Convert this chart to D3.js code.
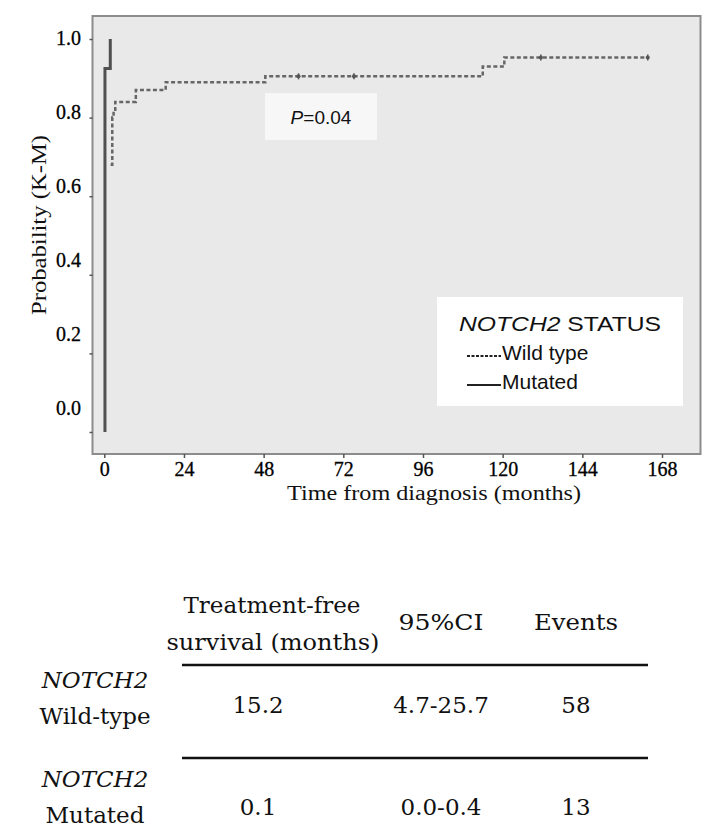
<!DOCTYPE html>
<html>
<head>
<meta charset="utf-8">
<script src="https://cdn.jsdelivr.net/npm/d3@7"></script>
<style>
  html, body { margin: 0; padding: 0; background: #fff; }
  svg { display: block; }
</style>
</head>
<body>
<svg id="chart" width="713" height="835"></svg>
<script>
// ---------------- DATA ----------------
// Wild type step curve (time in months, probability)
const wildTimes  = [1.9, 2.4, 2.8, 3.3, 9.5, 18.5, 48.5, 114, 120.5, 163.7];
const wildProbs  = [0.68, 0.80, 0.82, 0.84, 0.87, 0.89, 0.905, 0.93, 0.953, 0.953];
// Censor marks on wild type curve
const wildCensorTimes = [58.5, 75.2, 131.5, 163.7];
const wildCensorProbs = [0.905, 0.905, 0.953, 0.953];
// Mutated step curve
const mutTimes = [0.2, 0.2, 1.8, 1.8];
const mutProbs = [0.0, 0.925, 0.925, 1.0];

const xTicks = [0, 24, 48, 72, 96, 120, 144, 168];
const yTicks = [0.0, 0.2, 0.4, 0.6, 0.8, 1.0];

const pValueLabel = "=0.04";
const legendTitle = "STATUS";
const legendGene = "NOTCH2";
const legendNames = ["Wild type", "Mutated"];

// Table
const tableHeader = [["Treatment-free", "survival (months)"], ["95%CI"], ["Events"]];
const rowGene = ["NOTCH2", "NOTCH2"];
const rowNames = ["Wild-type", "Mutated"];
const tfsValues = ["15.2", "0.1"];
const ciValues = ["4.7-25.7", "0.0-0.4"];
const eventValues = ["58", "13"];

// ---------------- CHART ----------------
const svg = d3.select("#chart");
const serif = "'Liberation Serif', 'Times New Roman', serif";
const sans = "'Liberation Sans', Arial, sans-serif";
const dserif = "'DejaVu Serif', serif";

const frame = {x0: 92.5, x1: 700.5, y0: 16, y1: 454};
const x = d3.scaleLinear().domain([0, 168]).range([104.3, 662]);
const y = d3.scaleLinear().domain([0, 1]).range([432, 39]);
// tick labels in the original sit slightly above their tick marks
const yLab = d3.scaleLinear().domain([0, 1]).range([408, 38]);

svg.append("rect")
  .attr("x", frame.x0).attr("y", frame.y0)
  .attr("width", frame.x1 - frame.x0).attr("height", frame.y1 - frame.y0)
  .attr("fill", "#e9e9e9").attr("stroke", "#8c8c8c").attr("stroke-width", 2);

// Y axis ticks
const yAxis = d3.axisLeft(y).tickValues(yTicks).tickSize(3).tickFormat("");
const gy = svg.append("g").attr("transform", `translate(${frame.x0},0)`).call(yAxis);
gy.select(".domain").remove();
gy.selectAll(".tick line").attr("stroke", "#555").attr("stroke-width", 1.5);
svg.append("g").selectAll("text").data(yTicks).join("text")
  .attr("x", 81).attr("y", d => yLab(d)).attr("dy", "0.35em")
  .attr("text-anchor", "end")
  .attr("font-family", serif).attr("font-size", 20).attr("fill", "#000")
  .attr("stroke", "#000").attr("stroke-width", 0.3)
  .text(d => d3.format(".1f")(d));

// X axis
const xAxis = d3.axisBottom(x).tickValues(xTicks).tickSize(4).tickPadding(4).tickFormat(d3.format("d"));
const gx = svg.append("g").attr("transform", `translate(0,${frame.y1})`).call(xAxis);
gx.select(".domain").remove();
gx.selectAll(".tick line").attr("stroke", "#555").attr("stroke-width", 1.5);
gx.selectAll(".tick text").attr("font-family", serif).attr("font-size", 20).attr("fill", "#000")
  .attr("stroke", "#000").attr("stroke-width", 0.3);

// Axis titles
svg.append("text")
  .attr("x", 434).attr("y", 500)
  .attr("text-anchor", "middle")
  .attr("font-family", serif).attr("font-size", 20).attr("fill", "#111")
  .attr("textLength", 294).attr("lengthAdjust", "spacingAndGlyphs")
  .text("Time from diagnosis (months)");
svg.append("text")
  .attr("transform", `translate(46,225) rotate(-90)`)
  .attr("text-anchor", "middle")
  .attr("font-family", serif).attr("font-size", 20).attr("fill", "#111")
  .attr("textLength", 180).attr("lengthAdjust", "spacingAndGlyphs")
  .text("Probability (K-M)");

// Lines
const line = d3.line().x(d => x(d[0])).y(d => y(d[1])).curve(d3.curveStepAfter);
const wild = wildTimes.map((t, i) => [t, wildProbs[i]]);
const mut = mutTimes.map((t, i) => [t, mutProbs[i]]);

svg.append("path").datum(wild).attr("d", line)
  .attr("fill", "none").attr("stroke", "#666").attr("stroke-width", 2.5)
  .attr("stroke-dasharray", "4,2.5");
svg.append("path").datum(mut).attr("d", d3.line().x(d => x(d[0])).y(d => y(d[1])))
  .attr("fill", "none").attr("stroke", "#505050").attr("stroke-width", 3);

// Censor marks
const cens = wildCensorTimes.map((t, i) => [t, wildCensorProbs[i]]);
const cg = svg.append("g").selectAll("g").data(cens).join("g")
  .attr("transform", d => `translate(${x(d[0])},${y(d[1])})`);
cg.append("line").attr("x1", 0).attr("x2", 0).attr("y1", -3).attr("y2", 3)
  .attr("stroke", "#555").attr("stroke-width", 1.5);
cg.append("circle").attr("r", 2).attr("fill", "#555");

// P-value box
svg.append("rect").attr("x", 265).attr("y", 93).attr("width", 112).attr("height", 47)
  .attr("fill", "#f7f7f7");
const pt = svg.append("text").attr("x", 321).attr("y", 124)
  .attr("text-anchor", "middle")
  .attr("font-family", sans).attr("font-size", 19).attr("fill", "#111");
pt.append("tspan").attr("font-style", "italic").text("P");
pt.append("tspan").text(pValueLabel);

// Legend
svg.append("rect").attr("x", 437).attr("y", 297).attr("width", 246).attr("height", 109)
  .attr("fill", "#ffffff");
const lt = svg.append("text").attr("x", 459).attr("y", 331)
  .attr("font-family", sans).attr("font-size", 21).attr("fill", "#111")
  .attr("textLength", 202).attr("lengthAdjust", "spacingAndGlyphs");
lt.append("tspan").attr("font-style", "italic").text(legendGene);
lt.append("tspan").text(" " + legendTitle);

const legY = d3.scalePoint().domain(legendNames).range([360, 389]);
const lg = svg.append("g").selectAll("g").data(legendNames).join("g");
lg.append("line")
  .attr("x1", 467).attr("x2", 501)
  .attr("y1", d => legY(d) - 4).attr("y2", d => legY(d) - 4)
  .attr("stroke", "#222").attr("stroke-width", 2)
  .attr("stroke-dasharray", (d, i) => i === 0 ? "3,1.5" : null);
lg.append("text")
  .attr("x", 502).attr("y", d => legY(d))
  .attr("font-family", sans).attr("font-size", 21).attr("fill", "#111")
  .text(d => d);

// ---------------- TABLE ----------------
const colX = d3.scaleOrdinal().domain([0, 1, 2]).range([272, 441, 576]);
const tableTxt = (sel) => sel.attr("font-family", dserif).attr("font-size", 23).attr("fill", "#111");

// headers
tableTxt(svg.append("text").attr("x", colX(0)).attr("y", 613).attr("text-anchor", "middle")
  .attr("textLength", 177).attr("lengthAdjust", "spacingAndGlyphs").text(tableHeader[0][0]));
tableTxt(svg.append("text").attr("x", colX(0) + 1).attr("y", 650).attr("text-anchor", "middle")
  .attr("textLength", 213).attr("lengthAdjust", "spacingAndGlyphs").text(tableHeader[0][1]));
tableTxt(svg.append("text").attr("x", colX(1)).attr("y", 630).attr("text-anchor", "middle")
  .attr("textLength", 85).attr("lengthAdjust", "spacingAndGlyphs").text(tableHeader[1][0]));
tableTxt(svg.append("text").attr("x", colX(2)).attr("y", 630).attr("text-anchor", "middle")
  .attr("textLength", 84).attr("lengthAdjust", "spacingAndGlyphs").text(tableHeader[2][0]));

// rule lines
const ruleY = [665, 758];
svg.append("g").selectAll("line").data(ruleY).join("line")
  .attr("x1", 182).attr("x2", 648).attr("y1", d => d).attr("y2", d => d)
  .attr("stroke", "#111").attr("stroke-width", 2.5);

// rows
const rowBase = [713, 815];
const labBase = [[688, 724], [787, 823]];
rowNames.forEach((name, i) => {
  tableTxt(svg.append("text").attr("x", 95).attr("y", labBase[i][0]).attr("text-anchor", "middle")
    .attr("font-style", "italic").text(rowGene[i]));
  tableTxt(svg.append("text").attr("x", 95).attr("y", labBase[i][1]).attr("text-anchor", "middle").text(name));
  tableTxt(svg.append("text").attr("x", 258).attr("y", rowBase[i]).attr("text-anchor", "middle").text(tfsValues[i]));
  tableTxt(svg.append("text").attr("x", colX(1)).attr("y", rowBase[i]).attr("text-anchor", "middle").text(ciValues[i]));
  tableTxt(svg.append("text").attr("x", colX(2)).attr("y", rowBase[i]).attr("text-anchor", "middle").text(eventValues[i]));
});
</script>
</body>
</html>
